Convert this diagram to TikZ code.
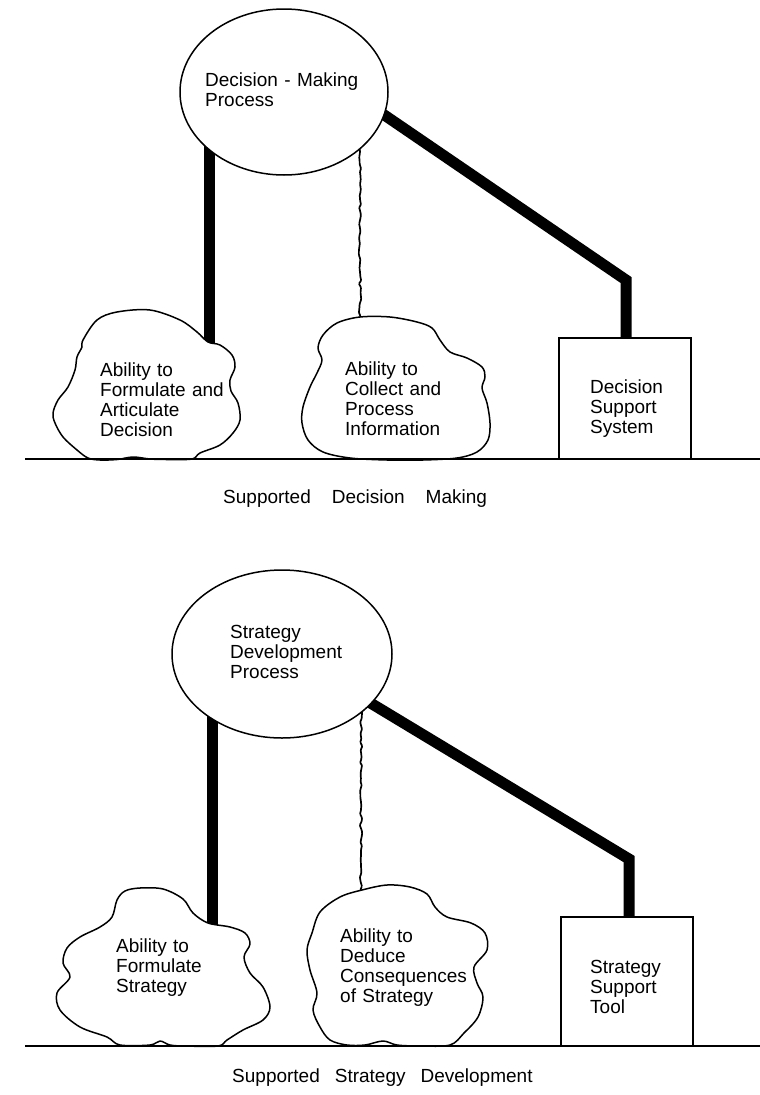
\documentclass[tikz,border=0pt]{standalone}
\usepackage{fontspec}
\setmainfont{Liberation Sans}
\usetikzlibrary{shapes.geometric,decorations.pathmorphing,calc,backgrounds}
\begin{document}
\begin{tikzpicture}[x=1pt,y=-1pt,
  outline/.style={line width=1.5pt},
  proc/.style={ellipse, draw, outline, fill=white, inner sep=0pt},
  toolbox/.style={rectangle, draw, line width=1.3pt, fill=white, inner sep=0pt},
  cloudline/.style={draw, outline, fill=white, line join=round},
  label/.style={font=\fontsize{19}{20}\selectfont, text width=180pt, align=left, inner sep=0pt, anchor=base west},
  caption/.style={font=\fontsize{19}{20}\selectfont, inner sep=0pt, anchor=base west},
  strong/.style={line width=11pt, line join=miter, line cap=butt},
  wavy/.style={line width=1.7pt, decorate, decoration={random steps, segment length=4pt, amplitude=1.3pt}, rounded corners=0.9pt},
  ground/.style={line width=1.5pt}]
\pgfmathsetseed{31}
\useasboundingbox (0,0) rectangle (760,1095);

% ---------------- Supported decision making ----------------
\node[proc, minimum width=208pt, minimum height=166pt] (dmp) at (284,92) {};
\node[label] (dmpT) at (205,86) {Decision - Making\\Process};

\draw[cloudline] plot[smooth cycle, tension=0.55] coordinates {
  (83,340) (97,320) (117,312) (150,310) (180,320) (197,332) (208,342) (220,345)
  (232,355) (235,367) (230,380) (231,391) (238,403) (240,420) (233,433) (220,445)
  (200,453) (192,459) (167,459.5) (150,459) (133,457) (117,459.5) (100,460) (88,458)
  (77,450) (63,437) (55,423) (53,413) (58,400) (68,387) (75,370) (77,357) (82,347)};
\coordinate (c1top) at (209,348);
\node[label] (c1T) at (100,376) {Ability to\\Formulate and\\Articulate\\Decision};

\draw[cloudline] plot[smooth cycle, tension=0.55] coordinates {
  (360,317) (390,317) (417,322) (432,328) (440,340) (450,352) (467,358) (482,367)
  (485,377) (482,388) (487,403) (490,423) (488,440) (477,452) (457,458) (423,460)
  (387,460) (350,458) (323,452) (308,440) (302,423) (303,407) (310,387) (317,373)
  (322,360) (318,348) (323,335) (337,323)};
\coordinate (c2top) at (360,323);
\node[label] (c2T) at (345,375) {Ability to\\Collect and\\Process\\Information};

\node[toolbox, minimum width=132pt, minimum height=121pt] (dss) at (625,398.5) {};
\node[label] (dssT) at (590,393) {Decision\\Support\\System};
\coordinate (bend1) at (626,280);

\coordinate (g1a) at (25,459);
\coordinate (g1b) at (760,459);
\draw[ground] (g1a) -- (g1b);
\node[caption] (cap1) at (223,503) {Supported\hspace{21pt}Decision\hspace{21pt}Making};

% ---------------- Supported strategy development ----------------
\node[proc, minimum width=220pt, minimum height=168pt] (sdp) at (282,654) {};
\node[label] (sdpT) at (230,638) {Strategy\\Development\\Process};

\draw[cloudline] plot[smooth cycle, tension=0.55] coordinates {
  (117,900) (125,891) (140,888) (163,889) (183,899) (193,913) (208,923) (230,927)
  (245,933) (250,944) (244,957) (250,973) (263,987) (270,1007) (263,1020) (243,1030)
  (227,1040) (218,1046) (185,1046) (170,1045) (160,1041) (150,1045) (120,1045) (107,1037)
  (80,1027) (60,1010) (57,993) (70,977) (63,963) (67,948) (80,937) (100,927) (112,917)};
\coordinate (c3top) at (212,930);
\node[label] (c3T) at (116,952) {Ability to\\Formulate\\Strategy};

\draw[cloudline] plot[smooth cycle, tension=0.55] coordinates {
  (362,890) (387,885) (410,887) (427,894) (435,907) (447,917) (471,923) (485,933)
  (487,950) (474,967) (477,983) (483,997) (478,1017) (464,1033) (450,1045) (420,1046)
  (397,1045) (383,1041) (365,1045) (347,1045) (330,1040) (320,1027) (313,1010) (317,993)
  (310,970) (307,950) (312,933) (320,912) (340,897)};
\coordinate (c4top) at (361,896);
\node[label] (c4T) at (340,942) {Ability to\\Deduce\\Consequences\\of Strategy};

\node[toolbox, minimum width=132pt, minimum height=129pt] (sst) at (627,981.5) {};
\node[label] (sstT) at (590,973) {Strategy\\Support\\Tool};
\coordinate (bend2) at (629,859);

\coordinate (g2a) at (25,1046);
\coordinate (g2b) at (760,1046);
\draw[ground] (g2a) -- (g2b);
\node[caption] (cap2) at (232,1082) {Supported\hspace{15pt}Strategy\hspace{15pt}Development};

% ---------------- connectors, drawn beneath the shapes ----------------
\begin{pgfonlayer}{background}
  \draw[strong] (dmp.center -| c1top) -- (c1top);
  \draw[wavy] (dmp.center -| c2top) -- (c2top);
  \draw[strong] ($(dmp.-13)!-14pt!(bend1)$) -- (bend1) -- (dss.north -| bend1);

  \draw[strong] (sdp.center -| c3top) -- (c3top);
  \draw[wavy] (sdp.center -| c4top) -- (c4top);
  \draw[strong] ($(sdp.-29)!-14pt!(bend2)$) -- (bend2) -- (sst.north -| bend2);
\end{pgfonlayer}
\end{tikzpicture}
\end{document}
